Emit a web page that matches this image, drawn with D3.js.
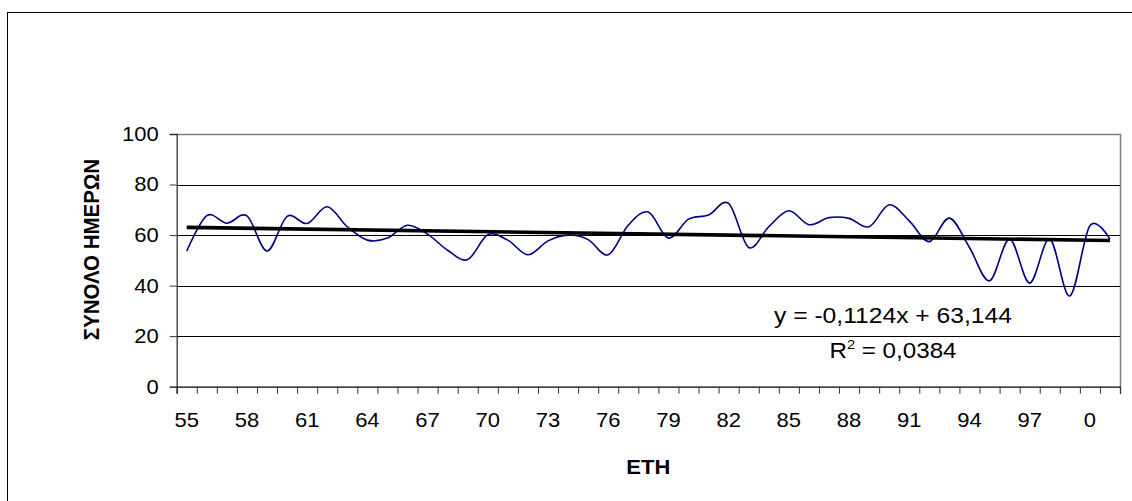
<!DOCTYPE html>
<html>
<head>
<meta charset="utf-8">
<script src="https://cdn.jsdelivr.net/npm/d3@7"></script>
<style>
  html, body { margin: 0; padding: 0; background: #fff; }
  svg text { font-family: "Liberation Sans", Arial, sans-serif; fill: #000; }
</style>
</head>
<body>
<svg id="chart" width="1132" height="501"></svg>
<script>
// Years 1955–2001 shown as two-digit labels
const years = ["55","56","57","58","59","60","61","62","63","64",
               "65","66","67","68","69","70","71","72","73","74",
               "75","76","77","78","79","80","81","82","83","84",
               "85","86","87","88","89","90","91","92","93","94",
               "95","96","97","98","99","0","1"];

// Total number of days per year
const days = [53.7, 67.7, 64.7, 67.6, 53.7, 67.4, 64.6, 71.2, 63.3, 58.0,
              58.8, 63.9, 60.4, 54.0, 50.3, 60.1, 58.0, 52.2, 57.7, 60.0,
              58.2, 52.2, 63.9, 69.1, 58.8, 66.3, 67.9, 72.5, 55.1, 63.3,
              69.6, 64.1, 66.9, 66.6, 63.3, 72.0, 65.6, 57.4, 66.7, 55.1,
              41.9, 58.4, 41.0, 58.4, 35.9, 63.7, 58.4];

const yTicks = [0, 20, 40, 60, 80, 100];

// Linear trend y = slope * x + intercept, x = 1..n
const trendSlope = -0.1124;
const trendIntercept = 63.144;
const trendText = "y = -0,1124x + 63,144";
const r2Text = "0,0384";

const svg = d3.select("#chart");
const plot = { left: 176.7, right: 1120, top: 134, bottom: 386.7 };
const SX = 1.1; // horizontal stretch of the text

// Outer chart frame (top and left edges fall inside the view)
svg.append("rect")
  .attr("x", 7.5).attr("y", 12.5)
  .attr("width", 1140).attr("height", 520)
  .attr("fill", "none").attr("stroke", "#000").attr("stroke-width", 1);

const x = d3.scaleBand().domain(years).range([plot.left, plot.right]).padding(0);
const xEdge = d3.scaleLinear().domain([0, years.length]).range([plot.left, plot.right]);
const y = d3.scaleLinear().domain([0, 100]).range([plot.bottom, plot.top]);

// Horizontal gridlines
svg.append("g")
  .selectAll("line")
  .data(yTicks.filter(d => d > 0 && d < 100))
  .join("line")
  .attr("x1", plot.left).attr("x2", plot.right)
  .attr("y1", d => Math.round(y(d)) + 0.5).attr("y2", d => Math.round(y(d)) + 0.5)
  .attr("stroke", "#000").attr("stroke-width", 1);

// Plot area border (top and right)
svg.append("path")
  .attr("d", `M${plot.left},${Math.round(plot.top) + 0.5}H${plot.right + 0.5}V${plot.bottom}`)
  .attr("fill", "none").attr("stroke", "#808080").attr("stroke-width", 1.5);

// Y axis
const yAxis = svg.append("g")
  .attr("transform", `translate(${plot.left},0)`)
  .call(d3.axisLeft(y).tickValues(yTicks).tickSize(7).tickPadding(11).tickFormat(d3.format("d")));
yAxis.select(".domain").attr("stroke", "#333").attr("stroke-width", 1.3);
yAxis.selectAll(".tick line").attr("stroke", "#333");
yAxis.selectAll(".tick text")
  .attr("font-size", 20)
  .attr("font-family", "'Liberation Sans', Arial, sans-serif")
  .attr("transform", `scale(${SX},1)`)
  .attr("x", -18 / SX);

// X axis: ticks on category boundaries
const xAxis = svg.append("g")
  .attr("transform", `translate(0,${plot.bottom})`)
  .call(d3.axisBottom(xEdge).tickValues(d3.range(0, years.length + 1)).tickSize(7).tickFormat(""));
xAxis.select(".domain").attr("stroke", "#000").attr("stroke-width", 1.3);
xAxis.selectAll(".tick line").attr("stroke", "#333");

// Category labels, every third year
svg.append("g")
  .selectAll("text")
  .data(years.filter((d, i) => i % 3 === 0))
  .join("text")
  .attr("transform", d => `translate(${x(d) + x.bandwidth() / 2},427) scale(${SX},1)`)
  .attr("text-anchor", "middle")
  .attr("font-size", 20)
  .text(d => d);

// Axis titles
svg.append("text")
  .attr("transform", `translate(${(plot.left + plot.right) / 2},474) scale(${SX},1)`)
  .attr("text-anchor", "middle")
  .attr("font-size", 20)
  .attr("font-weight", "bold")
  .text("ΕΤΗ");

svg.append("text")
  .attr("transform", "translate(99,249.5) rotate(-90) scale(1,1.1)")
  .attr("text-anchor", "middle")
  .attr("font-size", 20.5)
  .attr("font-weight", "bold")
  .text("ΣΥΝΟΛΟ ΗΜΕΡΩΝ");

// Data series (smoothed line)
const cx = (d, i) => x(years[i]) + x.bandwidth() / 2;
const line = d3.line()
  .x(cx)
  .y(d => y(d))
  .curve(d3.curveCardinal.tension(0));

svg.append("path")
  .datum(days)
  .attr("d", line)
  .attr("fill", "none")
  .attr("stroke", "#000080")
  .attr("stroke-width", 1.6);

// Linear trend line
const trend = [1, years.length].map(i => ({ i, v: trendSlope * i + trendIntercept }));
svg.append("path")
  .datum(trend)
  .attr("d", d3.line().x(d => x(years[d.i - 1]) + x.bandwidth() / 2).y(d => y(d.v)))
  .attr("fill", "none")
  .attr("stroke", "#000")
  .attr("stroke-width", 3.6);

// Trend equation label
const labelX = 893;
svg.append("text")
  .attr("x", labelX).attr("y", 323)
  .attr("text-anchor", "middle")
  .attr("font-size", 21.5)
  .attr("textLength", 238)
  .attr("lengthAdjust", "spacingAndGlyphs")
  .text(trendText);

const r2 = svg.append("text")
  .attr("x", labelX).attr("y", 358)
  .attr("text-anchor", "middle")
  .attr("font-size", 21.5)
  .attr("textLength", 127)
  .attr("lengthAdjust", "spacingAndGlyphs");
r2.append("tspan").text("R");
r2.append("tspan").attr("dy", -9).attr("font-size", 13).text("2");
r2.append("tspan").attr("dy", 9).text(" = " + r2Text);
</script>
</body>
</html>
